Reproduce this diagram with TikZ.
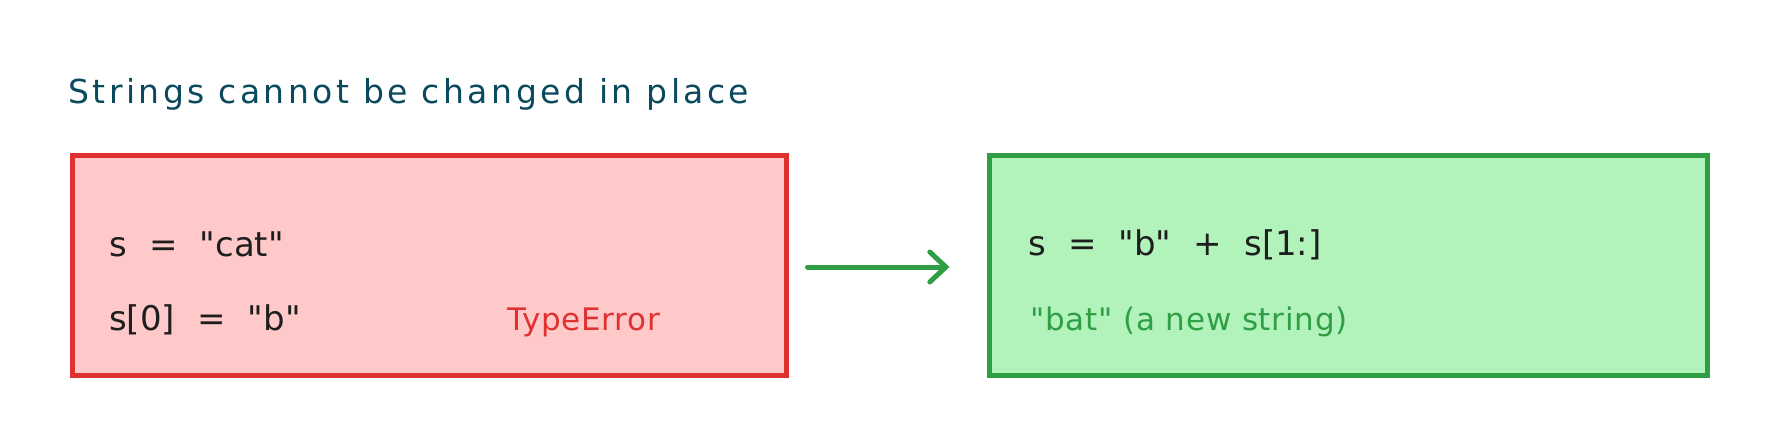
\documentclass[tikz,border=0pt]{standalone}
\usepackage{fontspec}
\setmainfont{DejaVu Sans}[Ligatures=TeXOff]
\newfontfamily\codefont{DejaVu Sans}[Ligatures=TeXOff, WordSpace=2.05]
\newfontfamily\titlefont{DejaVu Sans}[Ligatures=TeXOff, LetterSpace=10.5]
\newfontfamily\notefont{DejaVu Sans}[Ligatures=TeXOff, WordSpace=1, LetterSpace=2.5]
\usetikzlibrary{arrows.meta}
\definecolor{redstroke}{HTML}{E03131}
\definecolor{redfill}{HTML}{FFC9C9}
\definecolor{greenstroke}{HTML}{2F9E44}
\definecolor{greenfill}{HTML}{B2F2BB}
\definecolor{titlecol}{HTML}{0B4A5E}
\definecolor{inkcol}{HTML}{1E1E1E}
\tikzset{
  panel/.style={rectangle, line width=5pt, inner sep=0pt},
  codetext/.style={anchor=base west, inner sep=0pt, text=inkcol, font=\codefont\fontsize{34}{40}\selectfont},
  notetext/.style={anchor=base west, inner sep=0pt, font=\notefont\fontsize{31}{36}\selectfont},
  flow/.style={draw=greenstroke, line width=5pt, line cap=round, -{Straight Barb[length=16pt, width=30pt, line width=5pt, line cap=round]}}
}
\begin{document}
\begin{tikzpicture}[x=1pt, y=-1pt]
\useasboundingbox[fill=white] (0,0) rectangle (1776,444);
\node[anchor=base west, inner sep=0pt, text=titlecol, font=\titlefont\fontsize{33}{40}\selectfont] (title) at (68,103) {Strings cannot be changed in place};
\node[panel, draw=redstroke, fill=redfill, minimum width=714pt, minimum height=220pt] (bad) at (429,265) {};
\node[panel, draw=greenstroke, fill=greenfill, minimum width=718pt, minimum height=220pt] (good) at (1348,265) {};
\node[codetext] (l1) at (109,256) {s = "cat"};
\node[codetext] (l2) at (109,330) {s[0] = "b"};
\node[notetext, text=redstroke] (err) at (507,330) {TypeError};
\node[codetext] (r1) at (1028,255) {s = "b" + s[1:]};
\node[notetext, text=greenstroke] (r2) at (1030,330) {"bat" (a new string)};
\draw[flow] ([xshift=19pt,yshift=-2pt]bad.east) -- ([xshift=-37pt,yshift=-2pt]good.west);
\end{tikzpicture}
\end{document}
